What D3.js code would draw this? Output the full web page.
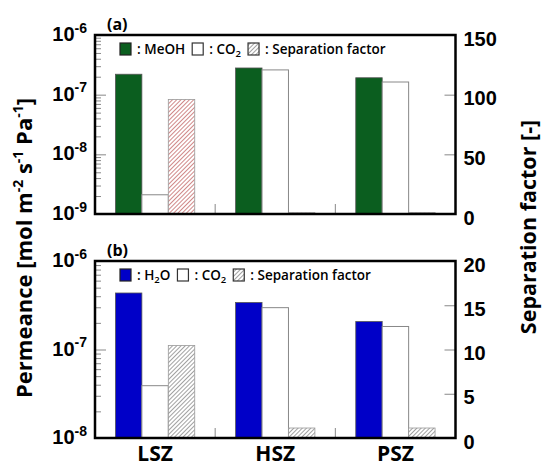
<!DOCTYPE html>
<html>
<head>
<meta charset="utf-8">
<script src="https://cdn.jsdelivr.net/npm/d3@7"></script>
<style>
  body { margin: 0; background: #fff; }
  svg { font-family: "Open Sans", "Noto Sans", sans-serif; }
  .axis path { display: none; }
  .axis line { stroke: #888; stroke-width: 1; }
</style>
</head>
<body>
<svg id="chart"></svg>
<script>
// chart size
let width = 544
let height = 467

// data
let categories = ["LSZ", "HSZ", "PSZ"]
let series = ["gas", "co2", "sep"]

// panel (a) MeOH / CO2
let meohPerm = [2.2e-7, 2.8e-7, 1.92e-7]
let co2PermA = [2.1e-9, 2.6e-7, 1.63e-7]
let sepFactorA = [96, 1.1, 1.2]

// panel (b) H2O / CO2
let h2oPerm = [4.35e-7, 3.4e-7, 2.07e-7]
let co2PermB = [3.9e-8, 2.97e-7, 1.82e-7]
let sepFactorB = [10.45, 1.13, 1.13]

// tick labels
let leftTicksA = [1e-9, 1e-8, 1e-7, 1e-6]
let leftTicksB = [1e-8, 1e-7, 1e-6]
let rightTicksA = [0, 50, 100, 150]
let rightTicksB = [0, 5, 10, 15, 20]

let plotLeft = 95, plotRight = 455.5

let panels = [
	{ id: "a", title: "(a)", top: 35, bottom: 214, gas: meohPerm, co2: co2PermA, sep: sepFactorA,
	  logDomain: [1e-9, 1e-6], leftTicks: leftTicksA, rightMax: 150, rightTicks: rightTicksA,
	  gasColor: "#0b5e1f", gasLabel: "MeOH", hatch: "#c46a6a" },
	{ id: "b", title: "(b)", top: 261, bottom: 438, gas: h2oPerm, co2: co2PermB, sep: sepFactorB,
	  logDomain: [1e-8, 1e-6], leftTicks: leftTicksB, rightMax: 20, rightTicks: rightTicksB,
	  gasColor: "#0000c8", gasLabel: "H2O", hatch: "#8a8a8a" }
]

let svg = d3.select("#chart").attr("width", width).attr("height", height)
let defs = svg.append("defs")

let xScale = d3.scaleBand().domain(categories).range([plotLeft, plotRight])
let xInner = d3.scaleBand().domain(series).range([0, xScale.bandwidth()]).paddingOuter(0.773)

function supLabel(sel, base, exp, size) {
	sel.text(null)
	sel.append("tspan").attr("font-size", size).text(base)
	sel.append("tspan").attr("font-size", size * 0.7).attr("dy", -size * 0.42).text(exp)
}

panels.forEach(p => {
	// hatch pattern
	let pat = defs.append("pattern")
		.attr("id", "hatch-" + p.id)
		.attr("patternUnits", "userSpaceOnUse")
		.attr("width", 3).attr("height", 3)
		.attr("patternTransform", "rotate(45)")
	pat.append("rect").attr("width", 3).attr("height", 3).attr("fill", "#fff")
	pat.append("line").attr("x1", 0).attr("y1", 0).attr("x2", 0).attr("y2", 3)
		.attr("stroke", p.hatch).attr("stroke-width", 1.6)

	let yLog = d3.scaleLog().domain(p.logDomain).range([p.bottom, p.top])
	let yLin = d3.scaleLinear().domain([0, p.rightMax]).range([p.bottom, p.top])

	let g = svg.append("g")

	// bars
	let rows = categories.map((c, i) => ({ cat: c, gas: p.gas[i], co2: p.co2[i], sep: p.sep[i] }))
	rows.forEach(r => {
		let x0 = xScale(r.cat)
		g.append("rect")
			.attr("x", x0 + xInner("gas")).attr("width", xInner.bandwidth())
			.attr("y", yLog(r.gas)).attr("height", p.bottom - yLog(r.gas))
			.attr("fill", p.gasColor).attr("stroke", "#555").attr("stroke-width", 0.8)
		g.append("rect")
			.attr("x", x0 + xInner("co2")).attr("width", xInner.bandwidth())
			.attr("y", yLog(r.co2)).attr("height", p.bottom - yLog(r.co2))
			.attr("fill", "#fff").attr("stroke", "#888").attr("stroke-width", 1)
		g.append("rect")
			.attr("x", x0 + xInner("sep")).attr("width", xInner.bandwidth())
			.attr("y", yLin(r.sep)).attr("height", p.bottom - yLin(r.sep))
			.attr("fill", "url(#hatch-" + p.id + ")").attr("stroke", "#999").attr("stroke-width", 0.8)
	})

	// group separators
	categories.slice(1).forEach(c => {
		g.append("line")
			.attr("x1", xScale(c)).attr("x2", xScale(c))
			.attr("y1", p.bottom).attr("y2", p.bottom - 10)
			.attr("stroke", "#888")
	})

	// left log axis: minor ticks
	let minors = []
	for (let e = Math.log10(p.logDomain[0]); e < Math.log10(p.logDomain[1]); e++) {
		for (let m = 2; m <= 9; m++) minors.push(m * Math.pow(10, e))
	}
	g.append("g").attr("class", "axis")
		.attr("transform", `translate(${plotLeft},0)`)
		.call(d3.axisLeft(yLog).tickValues(minors).tickSize(-6).tickFormat(""))

	let left = g.append("g").attr("class", "axis")
		.attr("transform", `translate(${plotLeft},0)`)
		.call(d3.axisLeft(yLog).tickValues(p.leftTicks).tickSize(-11).tickPadding(8))
	left.selectAll("text")
		.attr("fill", "#000").attr("font-weight", 700).attr("dy", "0.55em")
		.each(function(d) { supLabel(d3.select(this), "10", String(Math.round(Math.log10(d))), 20) })

	// right linear axis
	let right = g.append("g").attr("class", "axis")
		.attr("transform", `translate(${plotRight},0)`)
		.call(d3.axisRight(yLin).tickValues(p.rightTicks).tickSize(-11).tickPadding(8))
	right.selectAll("text")
		.attr("fill", "#000").attr("font-weight", 700).attr("font-size", 20).attr("dy", "0.5em")

	// frame
	g.append("rect")
		.attr("x", plotLeft).attr("y", p.top)
		.attr("width", plotRight - plotLeft).attr("height", p.bottom - p.top)
		.attr("fill", "none").attr("stroke", "#000").attr("stroke-width", 2.5)

	// panel title
	g.append("text").attr("x", 107).attr("y", p.top - 5)
		.attr("font-size", 16).attr("font-weight", 700).text(p.title)

	// legend
	let ly = p.top + 8, lx = 120
	let leg = g.append("g").attr("font-size", 13.5).attr("font-weight", 600)
	function swatch(fill, stroke) {
		leg.append("rect").attr("x", lx).attr("y", ly).attr("width", 11).attr("height", 12)
			.attr("fill", fill).attr("stroke", stroke).attr("stroke-width", 1.2)
		lx += 17
	}
	function label(parts) {
		let t = leg.append("text").attr("x", lx).attr("y", ly + 11)
		parts.forEach(pt => {
			let s = t.append("tspan").text(pt.t)
			if (pt.sub) s.attr("font-size", 9.5).attr("dy", 3)
			if (pt.up) s.attr("dy", -3)
		})
		lx += t.node().getComputedTextLength() + 7
	}
	swatch(p.gasColor, "#222")
	if (p.gasLabel === "H2O") label([{ t: ": H" }, { t: "2", sub: true }, { t: "O", up: true }])
	else label([{ t: ": MeOH" }])
	swatch("#fff", "#333")
	label([{ t: ": CO" }, { t: "2", sub: true }])
	swatch("url(#hatch-b)", "#333")
	label([{ t: ": Separation factor" }])
})

// category labels
svg.append("g").selectAll("text")
	.data(categories)
	.enter()
	.append("text")
		.attr("x", d => xScale(d) + xScale.bandwidth() / 2)
		.attr("y", 461)
		.attr("text-anchor", "middle")
		.attr("font-size", 21).attr("font-weight", 700)
		.text(d => d)

// axis titles
let yTitle = svg.append("text")
	.attr("transform", "translate(32,248) rotate(-90)")
	.attr("text-anchor", "middle")
	.attr("font-size", 22).attr("font-weight", 700)
yTitle.append("tspan").text("Permeance [mol m")
yTitle.append("tspan").attr("font-size", 14).attr("dy", -9).text("-2")
yTitle.append("tspan").attr("dy", 9).text(" s")
yTitle.append("tspan").attr("font-size", 14).attr("dy", -9).text("-1")
yTitle.append("tspan").attr("dy", 9).text(" Pa")
yTitle.append("tspan").attr("font-size", 14).attr("dy", -9).text("-1")
yTitle.append("tspan").attr("dy", 9).text("]")

svg.append("text")
	.attr("transform", "translate(536,227) rotate(-90)")
	.attr("text-anchor", "middle")
	.attr("font-size", 21.5).attr("font-weight", 700)
	.text("Separation factor [-]")
</script>
</body>
</html>
